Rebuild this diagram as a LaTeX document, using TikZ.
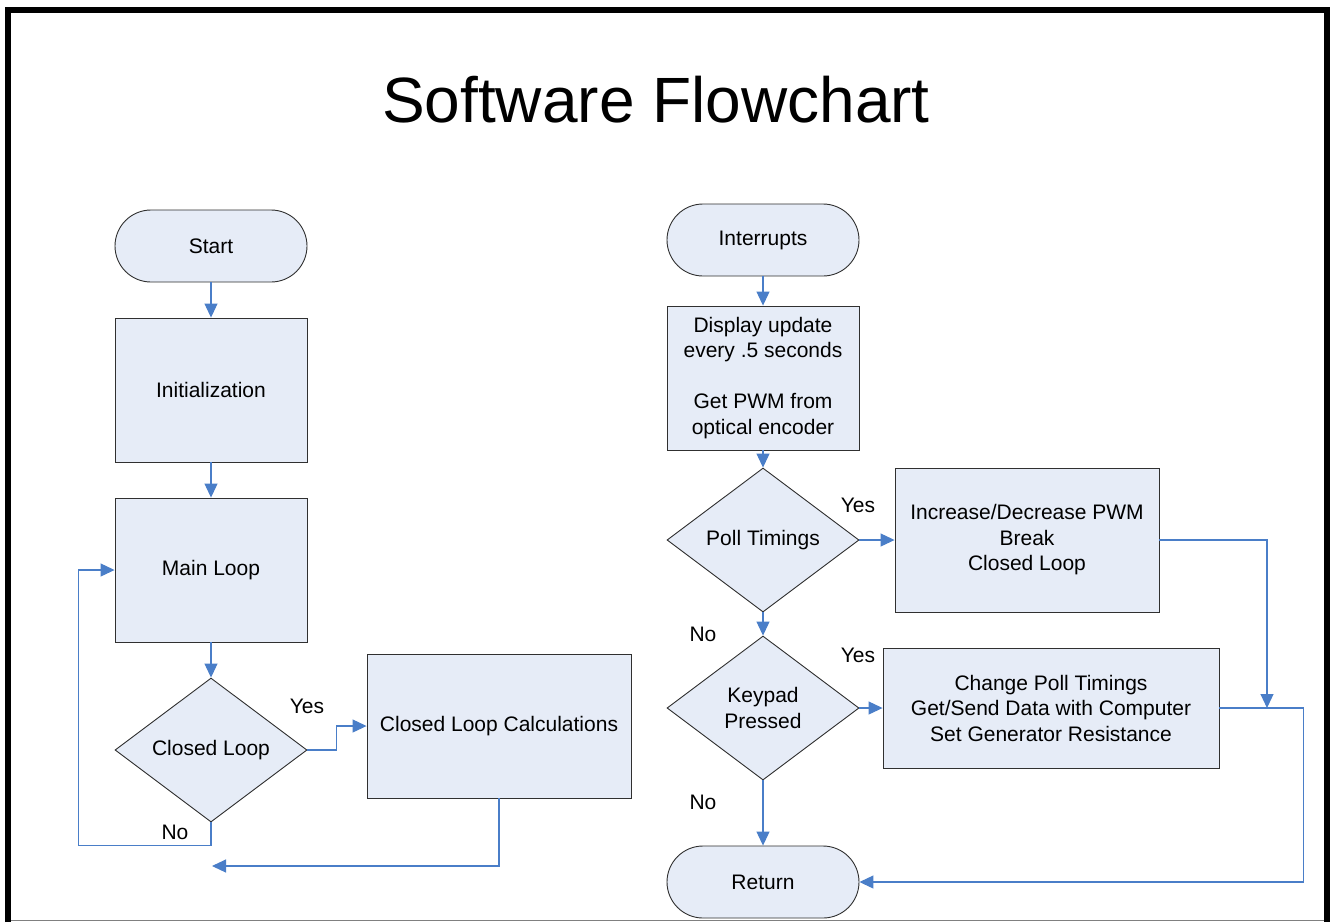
\documentclass[tikz,border=0pt]{standalone}
\usepackage{fontspec}
\setmainfont{Liberation Sans}
\usetikzlibrary{shapes.geometric,arrows.meta,calc}
\definecolor{boxfill}{HTML}{E6ECF7}
\definecolor{conncol}{HTML}{4A7EC8}
\definecolor{edgecol}{HTML}{303030}
\begin{document}
\begin{tikzpicture}[x=1pt,y=-1pt,
  txt/.style={font=\fontsize{21}{25.5}\selectfont, align=center},
  base/.style={txt, draw=edgecol, line width=0.9pt, fill=boxfill, inner sep=0pt},
  term/.style={base, rounded corners=36pt, minimum width=192pt, minimum height=72pt},
  procbox/.style={base, minimum width=#1},
  decide/.style={base, diamond, minimum width=192pt, minimum height=144pt},
  conn/.style={draw=conncol, line width=1.1pt, -{Triangle[length=14pt,width=13pt]}},
  line/.style={draw=conncol, line width=1.1pt},
  lbl/.style={txt}
]
\useasboundingbox (0,0) rectangle (1330,922);
\fill[white] (0,0) rectangle (1330,922);
% frame
\draw[line width=6pt, black] (8,922) -- (8,9.5) -- (1327,9.5) -- (1327,922);
\draw[gray, line width=1pt] (11,920.5) -- (1324,920.5);
% title
\node[font=\fontsize{64}{70}\selectfont] (title) at (656,100) {Software Flowchart};

% left column
\node[term] (start) at (211,246) {Start};
\node[base, minimum width=192pt, minimum height=144pt] (init) at (211,390) {Initialization};
\node[base, minimum width=192pt, minimum height=144pt] (main) at (211,570) {Main Loop};
\node[decide] (cl) at (211,750) {Closed Loop};
\node[base, minimum width=264pt, minimum height=144pt, text height=15pt, text depth=5pt] (clc) at (499,726) {Closed Loop Calculations};
\coordinate (back) at (212,866);

\node[lbl] (yes1) at (307,706) {Yes};
\node[lbl] (no1) at (175,832) {No};

\draw[conn] (start) -- (init);
\draw[conn] (init) -- (main);
\draw[conn] (main) -- (cl);
\draw[conn] (cl.east) -- ++(29,0) |- (clc.west);
\draw[conn] (cl.south) -- ++(0,23) -| ($(main.west)+(-36,0)$) -- (main.west);
\draw[conn] (clc.south) |- (back);

% right column
\node[term] (intr) at (763,240) {Interrupts};
\node[base, minimum width=192pt, minimum height=144pt] (disp) at (763,378) {Display update\\every .5 seconds\\[25.5pt]Get PWM from\\optical encoder};
\node[decide] (poll) at (763,540) {Poll Timings};
\node[base, minimum width=264pt, minimum height=144pt] (incr) at (1027,540) {Increase/Decrease PWM\\Break\\Closed Loop};
\node[decide] (key) at (763,708) {Keypad\\Pressed};
\node[base, minimum width=336pt, minimum height=120pt] (chg) at (1051,708) {Change Poll Timings\\Get/Send Data with Computer\\Set Generator Resistance};
\node[term] (ret) at (763,882) {Return};
\coordinate (join) at (1267,708);

\node[lbl] (yes2) at (858,505) {Yes};
\node[lbl] (no2) at (703,634) {No};
\node[lbl] (yes3) at (858,655) {Yes};
\node[lbl] (no3) at (703,802) {No};

\draw[conn] (intr) -- (disp);
\draw[conn] (disp) -- (poll);
\draw[conn] (poll) -- (incr);
\draw[conn] (poll) -- (key);
\draw[conn] (key) -- (chg);
\draw[conn] (key) -- (ret);
\draw[conn] (incr.east) -| (join);
\draw[conn] (chg.east) -- ++(84,0) |- (ret.east);
\end{tikzpicture}
\end{document}
